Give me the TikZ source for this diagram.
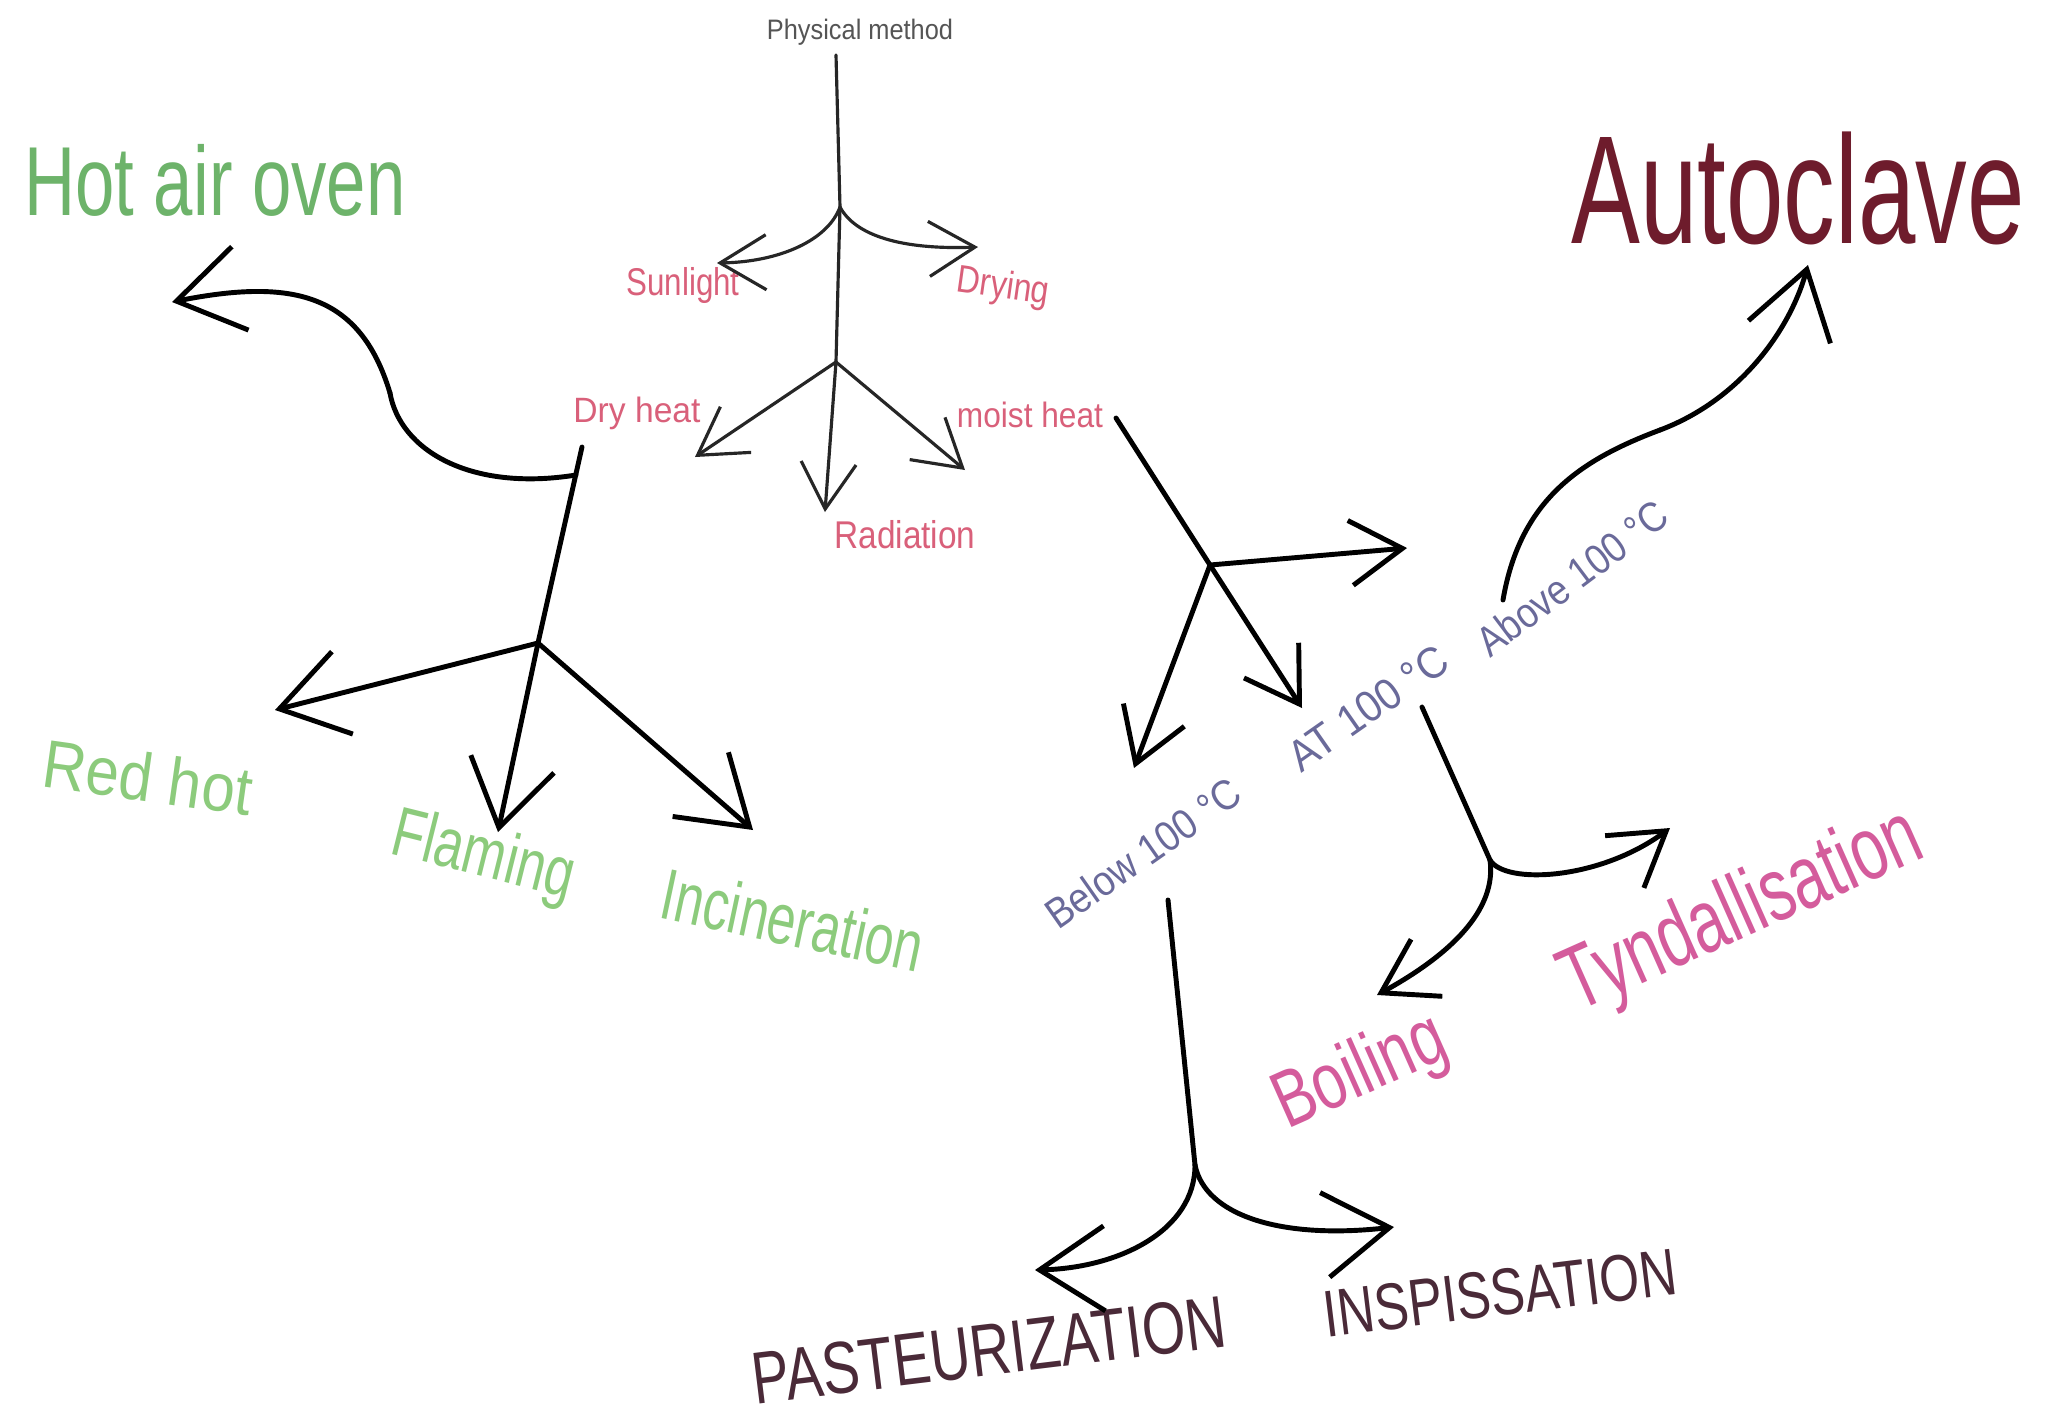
\documentclass[tikz,border=0pt]{standalone}
\usepackage{fontspec}
\usepackage{graphicx}
\setmainfont{Liberation Sans}
\usetikzlibrary{arrows.meta}
\definecolor{cgray}{HTML}{555555}
\definecolor{cpink}{HTML}{D9607A}
\definecolor{cgreenA}{HTML}{6DB36A}
\definecolor{cgreenB}{HTML}{8CCB7C}
\definecolor{cmaroon}{HTML}{6E1C2C}
\definecolor{cviolet}{HTML}{6A6A9A}
\definecolor{cmag}{HTML}{D45C9C}
\definecolor{cdark}{HTML}{4A2A38}
\newcommand\lab[3]{\fontsize{#1}{#1}\selectfont\resizebox{#2}{\height}{#3}}
\tikzset{
  lbl/.style={inner sep=0pt, anchor=center},
  thinln/.style={draw=black!85, line width=0.9pt, line cap=round, line join=round},
  thickln/.style={draw=black, line width=1.4pt, line cap=round, line join=round},
  headS/.style={-{Straight Barb[length=4.6mm,width=5.5mm]}},
  headM/.style={-{Straight Barb[length=5.2mm,width=6.5mm]}},
  headL/.style={-{Straight Barb[length=6.5mm,width=8.5mm]}}
}
\begin{document}
\begin{tikzpicture}[x=0.01cm,y=-0.01cm]
\fill[white] (0,0) rectangle (2047,1423);
\useasboundingbox (0,0) rectangle (2047,1423);

% ---------- labels ----------
\node[lbl,text=cgray]  (pm)   at (860,32)  {\lab{8pt}{1.86cm}{Physical method}};
\node[lbl,text=cpink]  (sun)  at (683,285) {\lab{11pt}{1.13cm}{Sunlight}};
\node[lbl,text=cpink,rotate=-8] (dry) at (1003,288) {\lab{11pt}{0.93cm}{Drying}};
\node[lbl,text=cpink]  (dh)   at (637,413) {\lab{10pt}{1.27cm}{Dry heat}};
\node[lbl,text=cpink]  (mh)   at (1030,415){\lab{10pt}{1.46cm}{moist heat}};
\node[lbl,text=cpink]  (rad)  at (905,535) {\lab{11pt}{1.41cm}{Radiation}};
\node[lbl,text=cgreenA] (hao) at (215,180) {\lab{27.9pt}{3.81cm}{Hot air oven}};
\node[lbl,text=cmaroon] (auto) at (1798,188) {\lab{43.8pt}{4.53cm}{Autoclave}};
\node[lbl,text=cgreenB,rotate=-8]  (rh)  at (148,777) {\lab{19.3pt}{2.1cm}{Red hot}};
\node[lbl,text=cgreenB,rotate=-14] (fl)  at (483,858) {\lab{20pt}{1.85cm}{Flaming}};
\node[lbl,text=cgreenB,rotate=-12] (inc) at (793,920) {\lab{20.5pt}{2.65cm}{Incineration}};
\node[lbl,text=cviolet,rotate=35] (bel)  at (1143,853) {\lab{12pt}{2.28cm}{Below 100 °C}};
\node[lbl,text=cviolet,rotate=35] (atc)  at (1368,708) {\lab{12.5pt}{1.84cm}{AT 100 °C}};
\node[lbl,text=cviolet,rotate=37] (abv)  at (1572,578) {\lab{12pt}{2.27cm}{Above 100 °C}};
\node[lbl,text=cmag,rotate=24] (tyn) at (1743,913) {\lab{25.6pt}{3.84cm}{Tyndallisation}};
\node[lbl,text=cmag,rotate=24] (boil) at (1361,1074) {\lab{22.8pt}{1.8cm}{Boiling}};
\node[lbl,text=cdark,rotate=7] (past) at (989,1350) {\lab{21pt}{4.76cm}{PASTEURIZATION}};
\node[lbl,text=cdark,rotate=7] (insp) at (1500,1293) {\lab{18.8pt}{3.55cm}{INSPISSATION}};

% ---------- junctions and arrow ends ----------
\coordinate (s0) at (836,55);
\coordinate (J1) at (840,207);
\coordinate (J2) at (836,362);
\coordinate (tSun) at (717,263);
\coordinate (tDry) at (978,247);
\coordinate (tDh) at (695,457);
\coordinate (tRad) at (825,512);
\coordinate (tMh) at (965,470);

\coordinate (dT) at (582,447);
\coordinate (hS) at (576,475);
\coordinate (hM) at (390,393);
\coordinate (tH) at (172,302);
\coordinate (J6) at (538,643);
\coordinate (tF) at (498,832);
\coordinate (tR) at (275,710);
\coordinate (tI) at (753,830);

\coordinate (m0) at (1116,418);
\coordinate (J3) at (1210,565);
\coordinate (tAT) at (1302,708);
\coordinate (tRt) at (1407,548);
\coordinate (tBel) at (1134,768);

\coordinate (a0) at (1503,600);
\coordinate (aM) at (1660,430);
\coordinate (tAuto) at (1808,265);

\coordinate (b0) at (1422,707);
\coordinate (J4) at (1490,860);
\coordinate (tBoil) at (1377,995);
\coordinate (tTyn) at (1670,828);

\coordinate (c0) at (1168,900);
\coordinate (J5) at (1195,1165);
\coordinate (tPast) at (1035,1270);
\coordinate (tInsp) at (1394,1227);

% ---------- top tree ----------
\draw[thinln] (s0) -- (J1) -- (J2);
\draw[thinln,headS] (J1) .. controls (828,240) and (780,262) .. (tSun);
\draw[thinln,headS] (J1) .. controls (855,235) and (900,250) .. (tDry);
\draw[thinln,headS] (J2) -- (tDh);
\draw[thinln,headS] (J2) -- (tRad);
\draw[thinln,headS] (J2) -- (tMh);

% ---------- dry heat tree ----------
\draw[thickln] (dT) -- (J6);
\draw[thickln] (hS) .. controls (470,492) and (400,450) .. (hM);
\draw[thickln,headL] (hM) .. controls (360,293) and (292,278) .. (tH);
\draw[thickln,headL] (J6) -- (tF);
\draw[thickln,headL] (J6) -- (tR);
\draw[thickln,headL] (J6) -- (tI);

% ---------- moist heat tree ----------
\draw[thickln] (m0) -- (J3);
\draw[thickln,headM] (J3) -- (tAT);
\draw[thickln,headM] (J3) -- (tRt);
\draw[thickln,headM] (J3) -- (tBel);

\draw[thickln] (a0) .. controls (1520,500) and (1580,460) .. (aM);
\draw[thickln,headL] (aM) .. controls (1740,400) and (1790,330) .. (tAuto);

\draw[thickln] (b0) -- (J4);
\draw[thickln,headM] (J4) .. controls (1497,910) and (1450,955) .. (tBoil);
\draw[thickln,headM] (J4) .. controls (1505,885) and (1600,880) .. (tTyn);

\draw[thickln] (c0) -- (J5);
\draw[thickln,headL] (J5) .. controls (1195,1230) and (1120,1268) .. (tPast);
\draw[thickln,headL] (J5) .. controls (1205,1215) and (1280,1240) .. (tInsp);
\end{tikzpicture}
\end{document}
